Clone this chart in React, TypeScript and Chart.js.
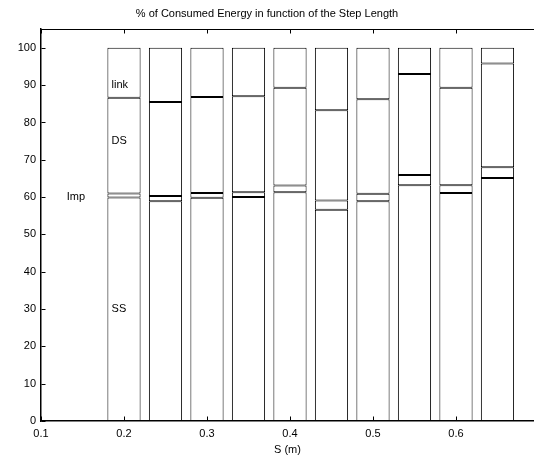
import React, { useEffect, useRef } from "react";
import { Chart, registerables } from "chart.js";

Chart.register(...registerables);

const stepLengths = [0.2, 0.25, 0.3, 0.35, 0.4, 0.45, 0.5, 0.55, 0.6, 0.65];
const ssValues = [59.9, 58.9, 59.8, 60.0, 61.3, 56.6, 58.9, 63.2, 61.1, 65.1];
const impValues = [1.1, 1.4, 1.3, 1.3, 1.8, 2.5, 2.0, 2.7, 2.1, 2.9];
const dsValues = [25.6, 25.2, 25.7, 25.7, 26.2, 24.2, 25.3, 27.1, 26.1, 27.8];
const linkValues = [13.4, 14.5, 13.2, 13.0, 10.7, 16.7, 13.8, 7.0, 10.7, 4.2];

const xTickValues = [0.1, 0.2, 0.3, 0.4, 0.5, 0.6];
const yTickValues = [0, 10, 20, 30, 40, 50, 60, 70, 80, 90, 100];

const annotationTexts = ["link", "DS", "Imp", "SS"];
const annotationX = [0.185, 0.185, 0.131, 0.185];
const annotationY = [90, 75, 60, 30];

const titleText = "% of Consumed Energy in function of the Step Length";
const xAxisTitle = "S (m)";

const FONT = "'Liberation Sans', Arial, Helvetica, sans-serif";

export default function App() {
  const canvasRef = useRef<HTMLCanvasElement | null>(null);

  useEffect(() => {
    const canvas = canvasRef.current;
    if (!canvas) return;

    const mk = (label: string, values: number[]) => ({
      label,
      data: stepLengths.map((x, i) => ({ x, y: values[i] })),
      backgroundColor: "#ffffff",
      borderColor: "#000000",
      borderWidth: 1,
      borderSkipped: false as const,
      barPercentage: 0.8,
      categoryPercentage: 1,
    });

    const boxPlugin = {
      id: "matlabBox",
      afterDraw(chart: any) {
        const { ctx, chartArea, scales } = chart;
        const xs = scales.x;
        const ys = scales.y;
        ctx.save();
        ctx.strokeStyle = "#000";
        ctx.lineWidth = 1;
        ctx.beginPath();
        const top = Math.round(chartArea.top) + 0.5;
        const bottom = Math.round(chartArea.bottom) - 0.5;
        const left = Math.round(chartArea.left) + 0.5;
        ctx.moveTo(chartArea.left, top);
        ctx.lineTo(chartArea.right, top);
        xTickValues.forEach((v) => {
          const px = Math.round(xs.getPixelForValue(v)) + 0.5;
          ctx.moveTo(px, bottom);
          ctx.lineTo(px, bottom - 4);
          ctx.moveTo(px, top);
          ctx.lineTo(px, top + 4);
        });
        yTickValues.forEach((v) => {
          const py = Math.round(ys.getPixelForValue(v)) + 0.5;
          ctx.moveTo(left, py);
          ctx.lineTo(left + 4, py);
        });
        ctx.stroke();

        ctx.fillStyle = "#000";
        ctx.font = `11px ${FONT}`;
        ctx.textAlign = "left";
        ctx.textBaseline = "middle";
        annotationTexts.forEach((t, i) => {
          ctx.fillText(t, xs.getPixelForValue(annotationX[i]), ys.getPixelForValue(annotationY[i]));
        });
        ctx.restore();
      },
    };

    const chart = new Chart(canvas, {
      type: "bar",
      data: {
        datasets: [
          mk("SS", ssValues),
          mk("Imp", impValues),
          mk("DS", dsValues),
          mk("link", linkValues),
        ],
      },
      options: {
        animation: false,
        responsive: false,
        devicePixelRatio: 1,
        layout: { padding: 0 },
        plugins: {
          legend: { display: false },
          tooltip: { enabled: false },
          title: {
            display: true,
            text: titleText,
            color: "#000",
            font: { family: FONT, size: 11, weight: "normal" },
            padding: { top: 7, bottom: 9 },
          },
        },
        scales: {
          x: {
            type: "linear",
            stacked: true,
            offset: false,
            min: 0.1,
            max: 0.694,
            afterBuildTicks: (scale: any) => {
              scale.ticks = xTickValues.map((v) => ({ value: v }));
            },
            afterFit: (scale: any) => {
              scale.height = 36;
            },
            grid: { display: false, drawTicks: false, offset: false },
            border: { display: true, color: "#000", width: 1.5 },
            ticks: {
              color: "#000",
              font: { family: FONT, size: 11 },
              padding: 6,
              maxRotation: 0,
              autoSkip: false,
              callback: (v: any) => Number(v).toFixed(1),
            },
            title: {
              display: true,
              text: xAxisTitle,
              color: "#000",
              font: { family: FONT, size: 11 },
              padding: { top: 0, bottom: 0 },
            },
          },
          y: {
            stacked: true,
            min: 0,
            max: 105,
            afterBuildTicks: (scale: any) => {
              scale.ticks = yTickValues.map((v) => ({ value: v }));
            },
            afterFit: (scale: any) => {
              scale.width = 41;
            },
            grid: { display: false, drawTicks: false },
            border: { display: true, color: "#000", width: 1.5 },
            ticks: {
              color: "#000",
              font: { family: FONT, size: 11 },
              padding: 5,
              autoSkip: false,
              callback: (v: any) => String(v),
            },
          },
        },
      },
      plugins: [boxPlugin],
    } as any);

    return () => chart.destroy();
  }, []);

  return (
    <div
      style={{
        position: "fixed",
        left: 0,
        top: 0,
        width: 534,
        height: 457,
        background: "#fff",
        overflow: "hidden",
      }}
    >
      <canvas ref={canvasRef} width={534} height={457} style={{ display: "block" }} />
    </div>
  );
}
